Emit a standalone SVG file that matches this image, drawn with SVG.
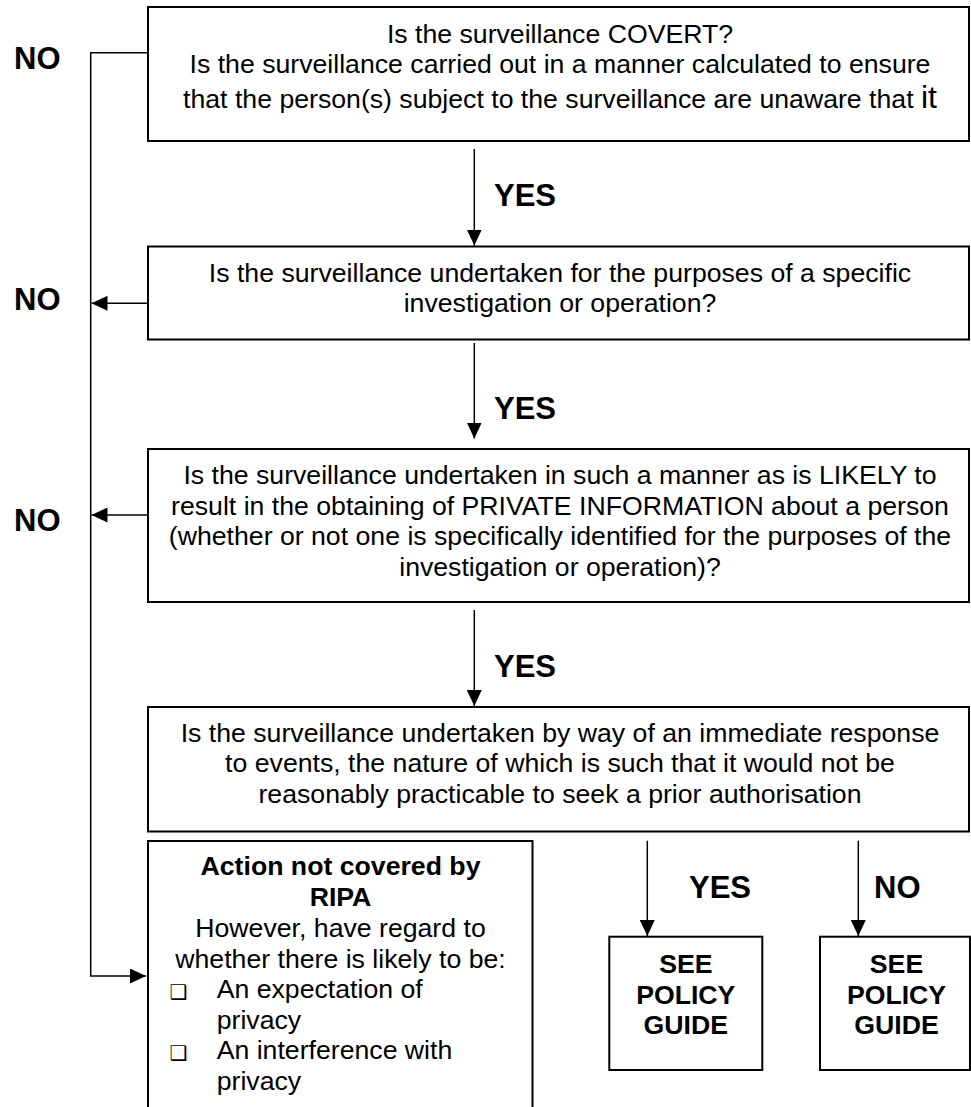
<svg xmlns="http://www.w3.org/2000/svg" width="971" height="1107" viewBox="0 0 971 1107">
<style>
.box{fill:#fff;stroke:#000;stroke-width:2}
.con{fill:none;stroke:#000;stroke-width:1.5}
.t{font-family:"Liberation Sans",Arial,sans-serif;font-size:26.67px;fill:#000;text-anchor:middle}
.tl{font-family:"Liberation Sans",Arial,sans-serif;font-size:26.67px;fill:#000}
.b{font-weight:bold}
.lbl{font-family:"Liberation Sans",Arial,sans-serif;font-size:31px;font-weight:bold;fill:#000}
.bul{font-family:"DejaVu Sans",sans-serif;font-size:20px;fill:#000}
</style>
<defs>
<marker id="ah" markerUnits="userSpaceOnUse" markerWidth="16" markerHeight="15" refX="16" refY="7.5" orient="auto">
<path d="M0,0 L16,7.5 L0,15 z" fill="#000"/>
</marker>
</defs>
<rect width="971" height="1107" fill="#fff"/>

<g id="connectors">
<polyline class="con" points="148,52.7 90.7,52.7 90.7,976 146,976" marker-end="url(#ah)"/>
<line class="con" x1="148" y1="303.3" x2="91.5" y2="303.3" marker-end="url(#ah)"/>
<line class="con" x1="148" y1="515" x2="91.5" y2="515" marker-end="url(#ah)"/>
<line class="con" x1="474.3" y1="149" x2="474.3" y2="245.5" marker-end="url(#ah)"/>
<line class="con" x1="474.3" y1="343" x2="474.3" y2="438.5" marker-end="url(#ah)"/>
<line class="con" x1="474.3" y1="610" x2="474.3" y2="706" marker-end="url(#ah)"/>
<line class="con" x1="647.3" y1="840.7" x2="647.3" y2="936" marker-end="url(#ah)"/>
<line class="con" x1="858.3" y1="840.7" x2="858.3" y2="936" marker-end="url(#ah)"/>
<text class="lbl" x="14" y="69">NO</text>
<text class="lbl" x="14" y="310">NO</text>
<text class="lbl" x="14" y="530.7">NO</text>
<text class="lbl" x="494" y="206">YES</text>
<text class="lbl" x="494" y="419">YES</text>
<text class="lbl" x="494" y="677">YES</text>
<text class="lbl" x="689" y="898">YES</text>
<text class="lbl" x="874" y="898">NO</text>
</g>

<g id="q1">
<rect class="box" x="148" y="7" width="821" height="134"/>
<text class="t" x="560" y="43">Is the surveillance COVERT?</text>
<text class="t" x="560" y="73">Is the surveillance carried out in a manner calculated to ensure</text>
<text class="t" x="560" y="108.3">that the person(s) subject to the surveillance are unaware that <tspan font-size="32px">it</tspan></text>
</g>

<g id="q2">
<rect class="box" x="148" y="246.5" width="821" height="93"/>
<text class="t" x="560" y="281.7">Is the surveillance undertaken for the purposes of a specific</text>
<text class="t" x="560" y="311.5">investigation or operation?</text>
</g>

<g id="q3">
<rect class="box" x="148" y="449" width="821" height="153"/>
<text class="t" x="560" y="484">Is the surveillance undertaken in such a manner as is LIKELY to</text>
<text class="t" x="560" y="514.5">result in the obtaining of PRIVATE INFORMATION about a person</text>
<text class="t" x="560" y="545">(whether or not one is specifically identified for the purposes of the</text>
<text class="t" x="560" y="575.5">investigation or operation)?</text>
</g>

<g id="q4">
<rect class="box" x="148" y="707" width="821" height="124.5"/>
<text class="t" x="560" y="741.7">Is the surveillance undertaken by way of an immediate response</text>
<text class="t" x="560" y="772">to events, the nature of which is such that it would not be</text>
<text class="t" x="560" y="802.5">reasonably practicable to seek a prior authorisation</text>
</g>

<g id="notcovered">
<rect class="box" x="148" y="841" width="384.5" height="280"/>
<text class="t b" x="340.5" y="875">Action not covered by</text>
<text class="t b" x="340.5" y="905.7">RIPA</text>
<text class="t" x="340.5" y="936.5">However, have regard to</text>
<text class="t" x="340.5" y="967.5">whether there is likely to be:</text>
<text class="bul" x="169.5" y="999">❑</text>
<text class="tl" x="216.7" y="998">An expectation of</text>
<text class="tl" x="216.7" y="1028.5">privacy</text>
<text class="bul" x="169.5" y="1060">❑</text>
<text class="tl" x="216.7" y="1059">An interference with</text>
<text class="tl" x="216.7" y="1089.5">privacy</text>
</g>

<g id="guideyes">
<rect class="box" x="609.3" y="936.7" width="153" height="133.3"/>
<text class="t b" x="685.8" y="973">SEE</text>
<text class="t b" x="685.8" y="1003.7">POLICY</text>
<text class="t b" x="685.8" y="1034.3">GUIDE</text>
</g>

<g id="guideno">
<rect class="box" x="820" y="936.7" width="150" height="133.3"/>
<text class="t b" x="896.5" y="973">SEE</text>
<text class="t b" x="896.5" y="1003.7">POLICY</text>
<text class="t b" x="896.5" y="1034.3">GUIDE</text>
</g>
</svg>
